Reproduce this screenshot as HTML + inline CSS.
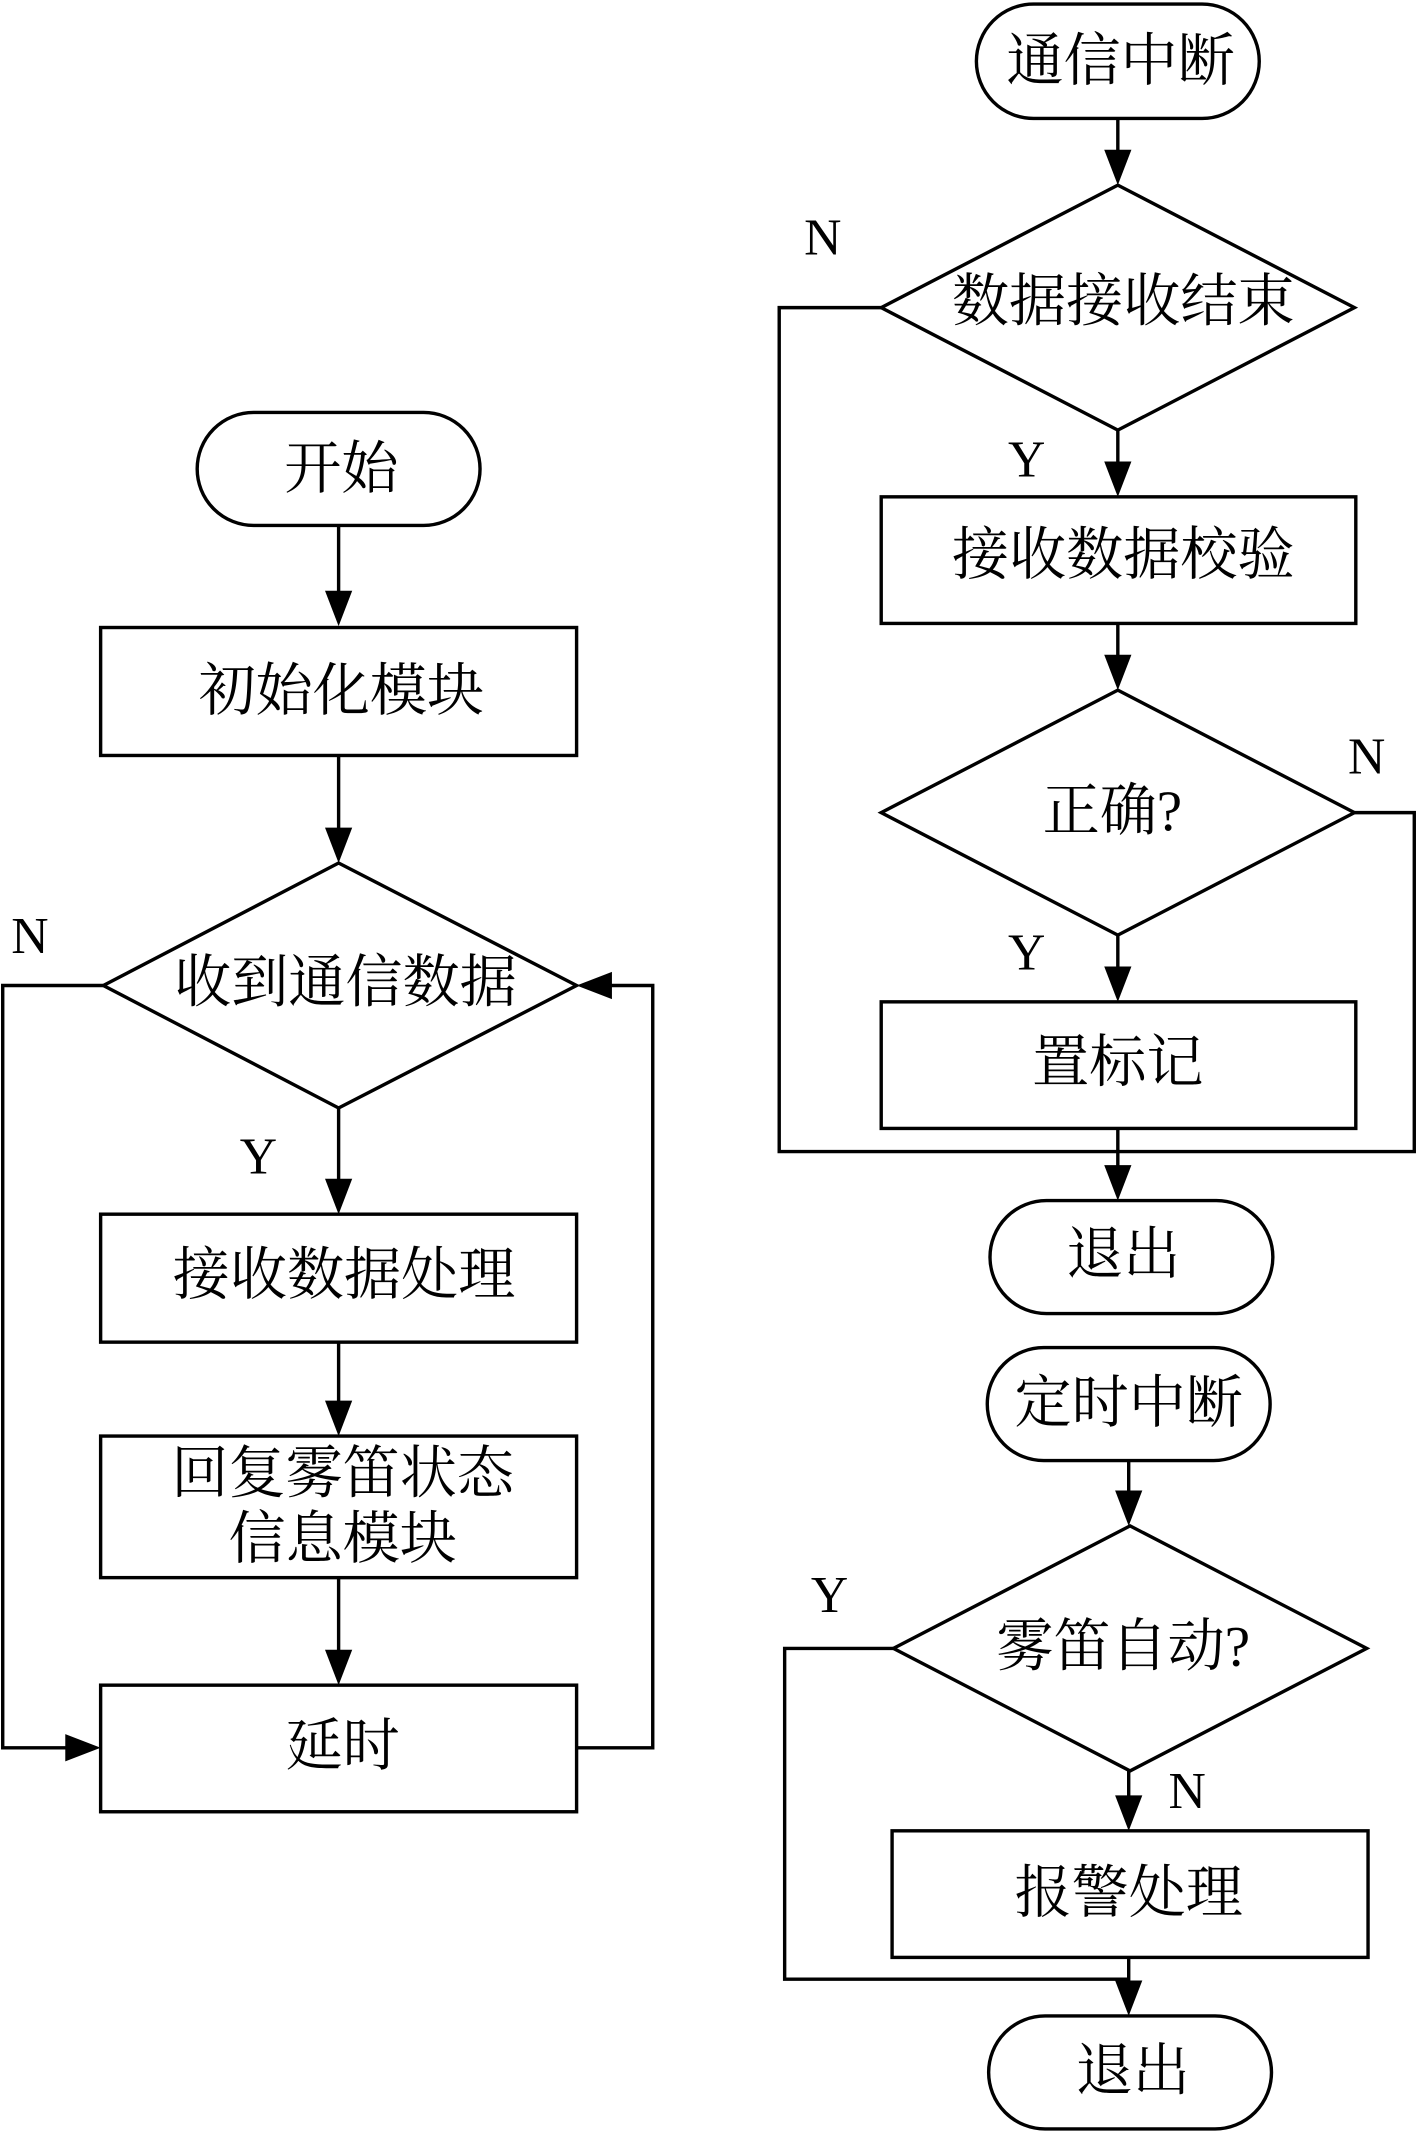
<!DOCTYPE html>
<html><head><meta charset="utf-8"><style>
html,body{margin:0;padding:0;background:#fff;}
svg{display:block;}
text{font-family:"Liberation Serif","Noto Serif CJK SC",serif;fill:#000;}
.c{font-size:42px;text-anchor:middle;dominant-baseline:central;}
.l{font-size:38px;text-anchor:middle;dominant-baseline:central;}
</style></head><body>
<svg width="1417" height="2133" viewBox="0 0 1042 1567" preserveAspectRatio="none" xmlns="http://www.w3.org/2000/svg">
<g fill="none" stroke="#000" stroke-width="2.5">
<rect x="145" y="303" width="208" height="83" rx="41.5"/>
<rect x="74" y="461" width="350" height="94"/>
<polygon points="76,724 249,634 424,724 249,814"/>
<rect x="74" y="892" width="350" height="94"/>
<rect x="74" y="1055" width="350" height="104"/>
<rect x="74" y="1238" width="350" height="93"/>
<line x1="249" y1="386" x2="249" y2="440"/>
<line x1="249" y1="555" x2="249" y2="612"/>
<line x1="249" y1="814" x2="249" y2="870"/>
<line x1="249" y1="986" x2="249" y2="1033"/>
<line x1="249" y1="1159" x2="249" y2="1216"/>
<polyline points="76,724 2,724 2,1284 54,1284"/>
<polyline points="424,1284 480,1284 480,724 446,724"/>
<rect x="718" y="3" width="208" height="84" rx="42"/>
<polygon points="648,226 822,136 996,226 822,316"/>
<rect x="648" y="365" width="349" height="93"/>
<polygon points="648,597 822,507 996,597 822,687"/>
<rect x="648" y="736" width="349" height="93"/>
<rect x="728" y="882" width="208" height="83" rx="41.5"/>
<rect x="726" y="990" width="208" height="83" rx="41.5"/>
<polygon points="657,1211 831,1121 1005,1211 831,1301"/>
<rect x="656" y="1345" width="350" height="93"/>
<rect x="727" y="1481" width="208" height="83" rx="41.5"/>
<line x1="822" y1="87" x2="822" y2="114"/>
<line x1="822" y1="316" x2="822" y2="343"/>
<line x1="822" y1="458" x2="822" y2="485"/>
<line x1="822" y1="687" x2="822" y2="714"/>
<line x1="822" y1="829" x2="822" y2="860"/>
<polyline points="648,226 573,226 573,846 1040,846 1040,597 996,597"/>
<line x1="830" y1="1073" x2="830" y2="1099"/>
<line x1="830" y1="1301" x2="830" y2="1322"/>
<line x1="830" y1="1438" x2="830" y2="1460"/>
<polyline points="657,1211 577,1211 577,1454 830,1454"/>
</g>
<g fill="#000">
<polygon points="239,434 259,434 249,460"/>
<polygon points="239,608 259,608 249,634"/>
<polygon points="239,866 259,866 249,892"/>
<polygon points="239,1029 259,1029 249,1055"/>
<polygon points="239,1212 259,1212 249,1238"/>
<polygon points="48,1274 48,1294 74,1284"/>
<polygon points="450,714 450,734 424,724"/>
<polygon points="812,110 832,110 822,136"/>
<polygon points="812,339 832,339 822,365"/>
<polygon points="812,481 832,481 822,507"/>
<polygon points="812,710 832,710 822,736"/>
<polygon points="812,856 832,856 822,882"/>
<polygon points="820,1095 840,1095 830,1121"/>
<polygon points="820,1319 840,1319 830,1345"/>
<polygon points="820,1455 840,1455 830,1481"/>
</g>
<text class="c" x="251" y="345">开始</text>
<text class="c" x="251" y="508">初始化模块</text>
<text class="c" x="254" y="722">收到通信数据</text>
<text class="c" x="253" y="937">接收数据处理</text>
<text class="c" x="252" y="1083">回复雾笛状态</text>
<text class="c" x="252" y="1131">信息模块</text>
<text class="c" x="252" y="1283">延时</text>
<text class="l" x="22" y="688">N</text>
<text class="l" x="190" y="850">Y</text>
<text class="c" x="824" y="45">通信中断</text>
<text class="c" x="826" y="222">数据接收结束</text>
<text class="c" x="826" y="408">接收数据校验</text>
<text class="c" x="818" y="596">正确?</text>
<text class="c" x="822" y="781">置标记</text>
<text class="c" x="826" y="922">退出</text>
<text class="c" x="830" y="1031">定时中断</text>
<text class="c" x="826" y="1210">雾笛自动?</text>
<text class="c" x="830" y="1391">报警处理</text>
<text class="c" x="833" y="1522">退出</text>
<text class="l" x="605" y="175">N</text>
<text class="l" x="755" y="338">Y</text>
<text class="l" x="1005" y="556">N</text>
<text class="l" x="755" y="700">Y</text>
<text class="l" x="610" y="1172">Y</text>
<text class="l" x="873" y="1316">N</text>
</svg>
</body></html>
